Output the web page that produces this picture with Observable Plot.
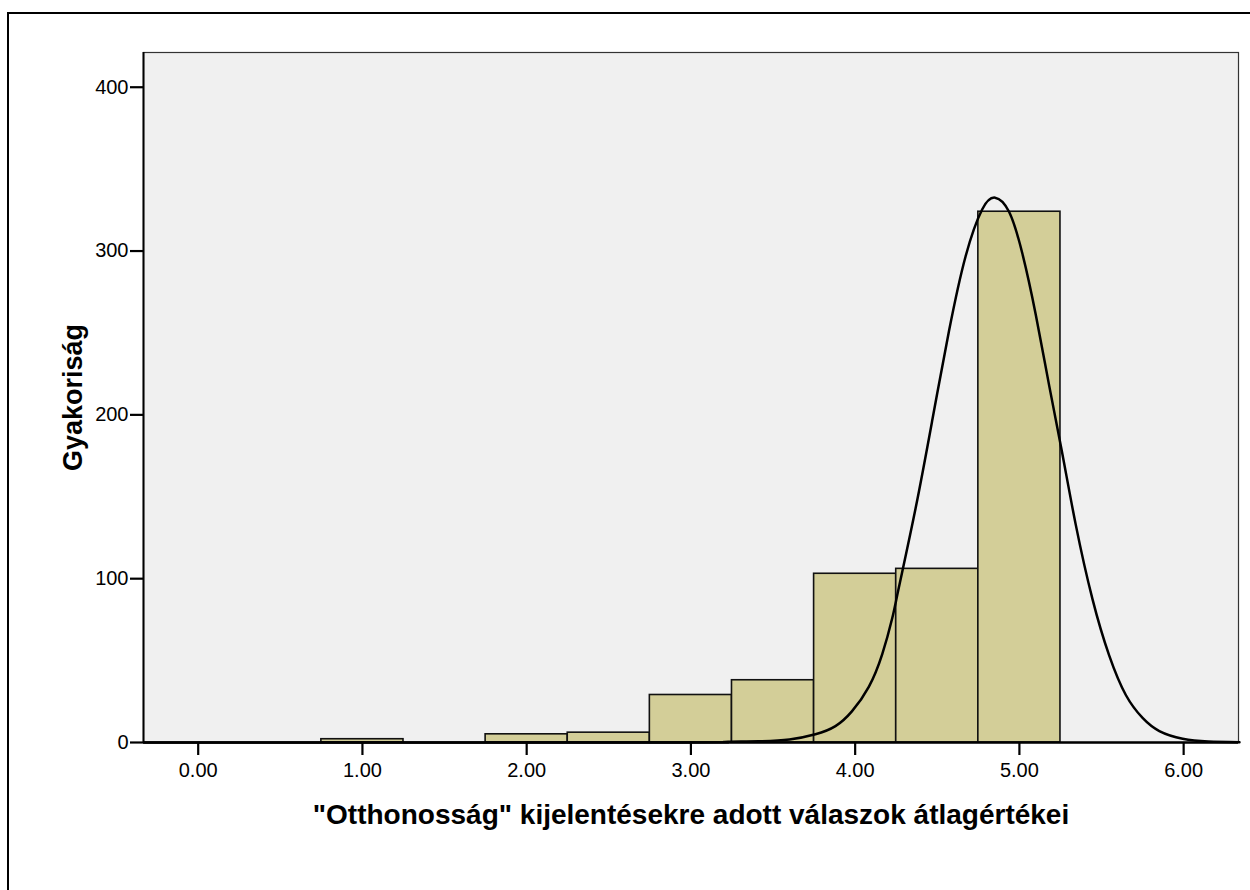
<!DOCTYPE html>
<html>
<head>
<meta charset="utf-8">
<script src="https://cdn.jsdelivr.net/npm/d3@7"></script>
<script src="https://cdn.jsdelivr.net/npm/@observablehq/plot@0.6"></script>
<style>
  html, body { margin: 0; padding: 0; background: #fff; overflow: hidden; }
  #wrap { position: relative; width: 1250px; height: 890px; }
  #outer { position: absolute; left: 7px; top: 12px; width: 1400px; height: 1000px;
           border-left: 2px solid #000; border-top: 2px solid #000; box-sizing: border-box; }
  #chart { position: absolute; left: 0; top: 0; }
</style>
</head>
<body>
<div id="wrap"><div id="outer"></div><div id="chart"></div></div>
<script>
// Histogram bins (lower / upper edges) and frequencies
const binLower = [0.75, 1.75, 2.25, 2.75, 3.25, 3.75, 4.25, 4.75];
const binUpper = [1.25, 2.25, 2.75, 3.25, 3.75, 4.25, 4.75, 5.25];
const counts   = [2, 5, 6, 29, 38, 103, 106, 324];

// Normal curve, points
const curveX = [-0.33, 2.8, 3.2, 3.41, 3.6, 3.758, 3.88, 3.98, 4.083, 4.165, 4.226, 4.266, 4.368, 4.47, 4.571, 4.673, 4.774, 4.852, 4.937, 5.018, 5.10, 5.181, 5.262, 5.343, 5.445, 5.547, 5.648, 5.75, 5.852, 5.994, 6.15, 6.34];
const curveY = [0, 0, 0.3, 0.7, 1.8, 5, 10, 19, 34, 54, 76, 94.6, 143, 197, 251, 297, 325.5, 332.6, 324, 298.5, 261, 218, 176, 133, 87.5, 53, 29, 15, 7, 2.3, 0.6, 0.2];

const xTicks = [0, 1, 2, 3, 4, 5, 6];
const yTicks = [0, 100, 200, 300, 400];
const xDomain = [-0.333, 6.334];
const yDomain = [0, 421.2];

const xTitle = '"Otthonosság" kijelentésekre adott válaszok átlagértékei';
const yTitle = 'Gyakoriság';

const bars = counts.map((c, i) => ({x1: binLower[i], x2: binUpper[i], count: c}));
const curve = curveX.map((x, i) => ({x, y: curveY[i]}));

const chart = Plot.plot({
  width: 1250,
  height: 890,
  marginLeft: 143,
  marginRight: 12,
  marginTop: 52,
  marginBottom: 148,
  style: {fontFamily: "Arial, 'Liberation Sans', sans-serif", fontSize: "20px", color: "#000", background: "transparent"},
  x: {domain: xDomain},
  y: {domain: yDomain},
  marks: [
    Plot.frame({fill: "#f0f0f0", stroke: "#333", strokeWidth: 1.2}),
    Plot.rect(bars, {x1: "x1", x2: "x2", y1: 0, y2: "count", fill: "#d3ce98", stroke: "#111", strokeWidth: 1.6}),
    Plot.line(curve, {x: "x", y: "y", curve: "natural", stroke: "#000", strokeWidth: 2.5}),
    Plot.ruleY([0], {stroke: "#000", strokeWidth: 2.4}),
    Plot.ruleX([xDomain[0]], {stroke: "#000", strokeWidth: 2}),
    Plot.axisX({ticks: xTicks, tickFormat: d3.format(".2f"), tickSize: 13, tickPadding: 7, strokeWidth: 2.2, label: null, fill: "#000", fontSize: 20}),
    Plot.axisY({ticks: yTicks, tickFormat: d3.format("d"), tickSize: 13, tickPadding: 2, strokeWidth: 2.2, label: null, fill: "#000", fontSize: 20}),
    Plot.text([xTitle], {frameAnchor: "bottom", dy: 81, text: d => d, fontSize: 28, fontWeight: "bold", fill: "#000"}),
    Plot.text([yTitle], {frameAnchor: "left", dx: -70, rotate: -90, textAnchor: "middle", text: d => d, fontSize: 27, fontWeight: "bold", fill: "#000"})
  ]
});
document.getElementById("chart").appendChild(chart);
</script>
</body>
</html>
